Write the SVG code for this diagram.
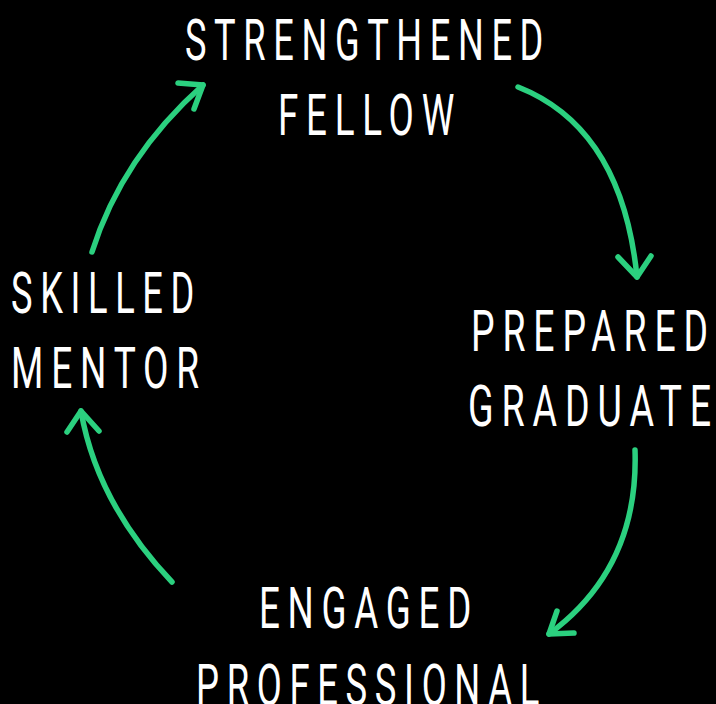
<svg xmlns="http://www.w3.org/2000/svg" width="716" height="704" viewBox="0 0 716 704">
<style>
.lbl{font-family:Roboto,"Liberation Sans",sans-serif;font-size:57px;font-weight:400;fill:#ffffff;letter-spacing:12px}
.arr{fill:none;stroke:#2bd07f;stroke-width:5.5;stroke-linecap:round;stroke-linejoin:round}
</style>
<rect width="716" height="704" fill="#000000"/>
<g id="connectors">
<path class="arr" d="M92,252 Q122,157 203,85"/>
<path class="arr" d="M178,83 L203,85 L194,109"/>
<path class="arr" d="M518,87 Q622,128 637,277"/>
<path class="arr" d="M618,257 L637,277 L651,256"/>
<path class="arr" d="M635,450 Q639,568 549,634"/>
<path class="arr" d="M557,611 L549,634 L574,633"/>
<path class="arr" d="M172,582 Q97,503 81,411"/>
<path class="arr" d="M67,432 L81,411 L99,431"/>
</g>
<g id="strengthened-fellow">
<text class="lbl" x="185" y="60" textLength="366" lengthAdjust="spacingAndGlyphs">STRENGTHENED</text>
<text class="lbl" x="278" y="135" textLength="184" lengthAdjust="spacingAndGlyphs">FELLOW</text>
</g>
<g id="prepared-graduate">
<text class="lbl" x="471" y="351" textLength="245" lengthAdjust="spacingAndGlyphs">PREPARED</text>
<text class="lbl" x="468" y="426" textLength="251" lengthAdjust="spacingAndGlyphs">GRADUATE</text>
</g>
<g id="engaged-professional">
<text class="lbl" x="259" y="628" textLength="220" lengthAdjust="spacingAndGlyphs">ENGAGED</text>
<text class="lbl" x="196" y="705" textLength="351" lengthAdjust="spacingAndGlyphs">PROFESSIONAL</text>
</g>
<g id="skilled-mentor">
<text class="lbl" x="11" y="313" textLength="191" lengthAdjust="spacingAndGlyphs">SKILLED</text>
<text class="lbl" x="11" y="388" textLength="196" lengthAdjust="spacingAndGlyphs">MENTOR</text>
</g>
</svg>
